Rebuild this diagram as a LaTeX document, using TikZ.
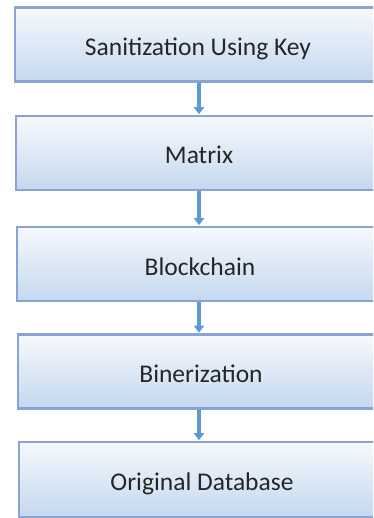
\documentclass[tikz,border=0pt]{standalone}
\usepackage{fontspec}
\setmainfont{Carlito}
\usetikzlibrary{arrows.meta}
\definecolor{boxline}{HTML}{8AA2D6}
\definecolor{boxtop}{HTML}{F6F9FD}
\definecolor{boxbot}{HTML}{C4D8EF}
\definecolor{arrowc}{HTML}{5B9BD5}
\definecolor{txt}{HTML}{262626}
\tikzset{
  stepbox/.style={draw=boxline, line width=2.6pt, top color=boxtop, bottom color=boxbot,
    minimum width=366pt, minimum height=74pt, inner sep=0pt,
    text height=22pt, text depth=0pt,
    font=\fontsize{25.5}{28}\selectfont, text=txt},
  flow/.style={draw=arrowc, line width=3.2pt, -{Triangle[width=10pt,length=7pt]}, shorten >=0.5pt}
}
\begin{document}
\begin{tikzpicture}[x=1pt,y=-1pt]
\useasboundingbox (0,0) rectangle (373,518);
\begin{scope}
\clip (0,0) rectangle (373,518);
\node[stepbox] (b1) at (198,44.5) {Sanitization Using Key};
\node[stepbox] (b2) at (199,153) {Matrix};
\node[stepbox] (b3) at (200,264) {Blockchain};
\node[stepbox] (b4) at (201,371.5) {Binerization};
\node[stepbox, minimum height=75pt] (b5) at (202,479.5) {Original Database};
\end{scope}
\draw[flow] (b1.south -| 199,0) -- (b2.north -| 199,0);
\draw[flow] (b2.south -| 199,0) -- (b3.north -| 199,0);
\draw[flow] (b3.south -| 199,0) -- (b4.north -| 199,0);
\draw[flow] (b4.south -| 199,0) -- (b5.north -| 199,0);
\end{tikzpicture}
\end{document}
